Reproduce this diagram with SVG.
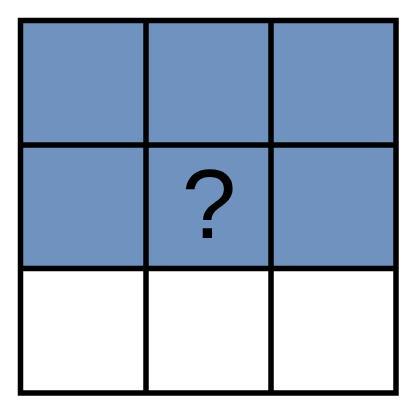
<svg xmlns="http://www.w3.org/2000/svg" width="417" height="414" viewBox="0 0 417 414">
<style>
.b{fill:#6F93BE;stroke:none}
.w{fill:#FFFFFF;stroke:none}
.g{stroke:#000;stroke-width:5.5;fill:none}
.q{font-family:"Liberation Sans",Arial,sans-serif;font-size:98px;fill:#000}
</style>
<rect width="417" height="414" fill="#fff"/>
<g id="cells">
<g id="c11"><rect class="b" x="20.5" y="20.5" width="125.5" height="124.5"/></g>
<g id="c12"><rect class="b" x="146" y="20.5" width="125" height="124.5"/></g>
<g id="c13"><rect class="b" x="271" y="20.5" width="125" height="124.5"/></g>
<g id="c21"><rect class="b" x="20.5" y="145" width="125.5" height="123.5"/></g>
<g id="c22"><rect class="b" x="146" y="145" width="125" height="123.5"/><text class="q" x="209" y="238" text-anchor="middle">?</text></g>
<g id="c23"><rect class="b" x="271" y="145" width="125" height="123.5"/></g>
<g id="c31"><rect class="w" x="20.5" y="268.5" width="125.5" height="124.5"/></g>
<g id="c32"><rect class="w" x="146" y="268.5" width="125" height="124.5"/></g>
<g id="c33"><rect class="w" x="271" y="268.5" width="125" height="124.5"/></g>
</g>
<g id="grid">
<rect class="g" x="20.5" y="20.5" width="375.5" height="372.5"/>
<line class="g" x1="146" y1="20.5" x2="146" y2="393"/>
<line class="g" x1="271" y1="20.5" x2="271" y2="393"/>
<line class="g" x1="20.5" y1="145" x2="396" y2="145"/>
<line class="g" x1="20.5" y1="268.5" x2="396" y2="268.5"/>
</g>
</svg>
